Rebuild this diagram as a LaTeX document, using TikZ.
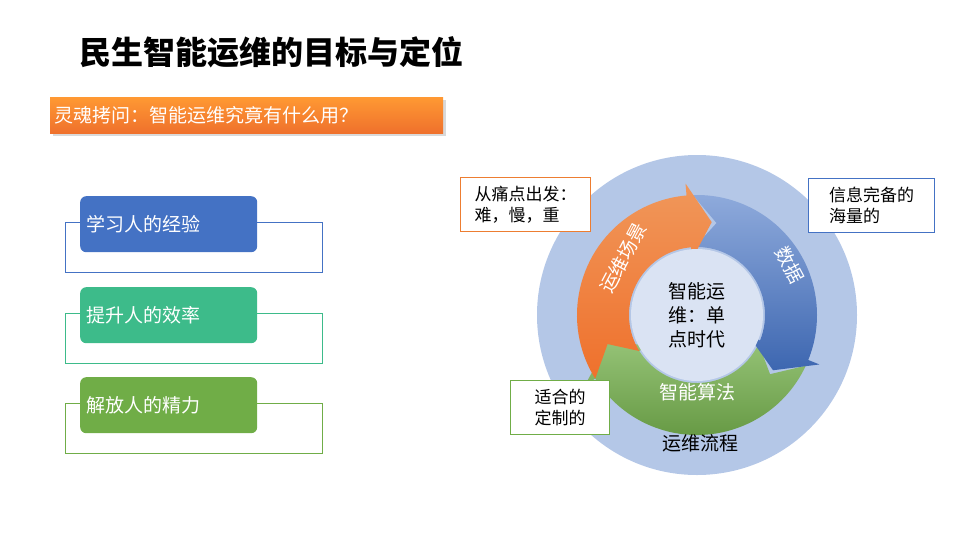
\documentclass[tikz,border=0pt]{standalone}
\usepackage{fontspec}
\setmainfont{Noto Sans CJK SC}
\usetikzlibrary{shadows,calc}
\begin{document}
\begin{tikzpicture}[x=1pt,y=-1pt,
  lbl/.style={font=\fontsize{19}{22}\selectfont},
  card/.style={rounded corners=6pt,minimum width=177pt,minimum height=56pt,anchor=north west,text=white,font=\fontsize{19}{22}\selectfont,text width=165pt,align=left},
  callout/.style={draw,line width=1pt,fill=white,anchor=north west,align=left,font=\fontsize{17}{21}\selectfont,inner sep=5pt}]
\useasboundingbox (0,0) rectangle (959,539);
\definecolor{cblue}{HTML}{4472C4}\definecolor{cteal}{HTML}{3DBB8A}\definecolor{cgreen}{HTML}{70AD47}
\definecolor{corange}{HTML}{ED7D31}
\node[anchor=west,font=\fontsize{32}{36}\selectfont\bfseries] (title) at (76,52) {民生智能运维的目标与定位};
\node[anchor=north west,minimum width=393pt,minimum height=36pt,inner sep=0pt,top color=orange!80!white,bottom color=corange!90!red,text=white,font=\fontsize{19}{22}\selectfont,text width=385pt,align=left,drop shadow={opacity=0.3}] (q) at (50,97) {灵魂拷问：智能运维究竟有什么用？};
% left cards
\draw[cblue] (65,222) rectangle (322,272);
\node[card,fill=cblue] (c1) at (80,196) {学习人的经验};
\draw[cteal] (65,313) rectangle (322,363);
\node[card,fill=cteal] (c2) at (80,287) {提升人的效率};
\draw[cgreen] (65,403) rectangle (322,453);
\node[card,fill=cgreen] (c3) at (80,377) {解放人的精力};
% circle
\coordinate (O) at (697,315);
\fill[cblue!40!white] (O) circle (160);
\def\ri{68}\def\ro{120}\def\rm{94}
\newcommand{\ringarrow}[4]{%
 \shade[top color=#3,bottom color=#4] ($(O)+(-#1:\ro)$) arc[start angle=-#1,end angle=-#2,radius=\ro]
   -- ($(O)+(-#2:\ro+12)$) -- ($(O)+(-#2+14:\rm)$) -- ($(O)+(-#2:\ri-12)$) -- ($(O)+(-#2:\ri)$)
   arc[start angle=-#2,end angle=-#1,radius=\ri] -- ($(O)+(-#1+14:\rm)$) -- cycle;}
\ringarrow{-25}{-148}{cgreen!75!white}{cgreen!85!black}
\ringarrow{92}{-22}{cblue!60!white}{cblue!90!black}
\ringarrow{212}{95}{corange!80!white}{corange!90!red}
\fill[cblue!20!white] (O) circle (66);
\node[align=center,font=\fontsize{19}{24}\selectfont] (ctr) at (O) {智能运\\维：单\\点时代};
\node[text=white,font=\fontsize{19}{22}\selectfont,rotate=62] (s1) at (623,258) {运维场景};
\node[text=white,font=\fontsize{19}{22}\selectfont,rotate=-62] (s2) at (790,265) {数据};
\node[text=white,font=\fontsize{19}{22}\selectfont] (s3) at (697,392) {智能算法};
\node[lbl] (flow) at (700,443) {运维流程};
\node[callout,draw=corange,minimum width=130pt,minimum height=54pt] (k1) at (460,177) {从痛点出发：\\难，慢，重};
\node[callout,draw=cblue,minimum width=126pt,minimum height=54pt] (k2) at (808,178) {信息完备的\\海量的};
\node[callout,draw=cgreen,minimum width=99pt,minimum height=54pt] (k3) at (510,380) {适合的\\定制的};
\end{tikzpicture}
\end{document}
